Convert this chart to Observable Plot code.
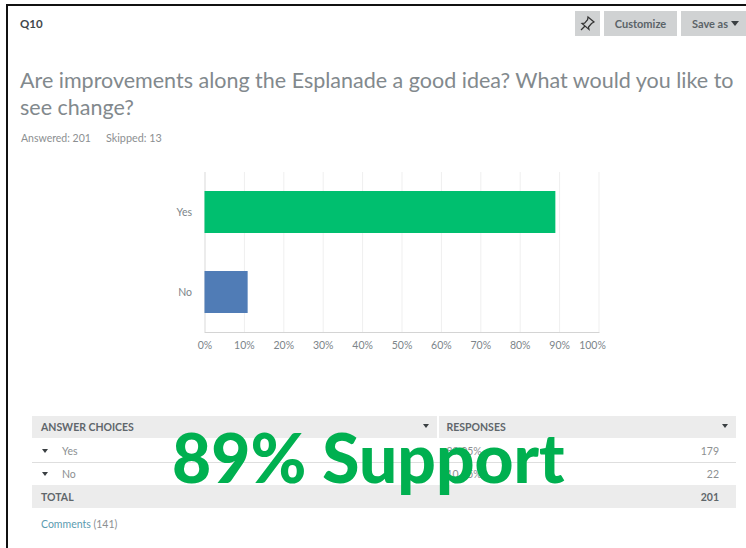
<!DOCTYPE html>
<html><head><meta charset="utf-8">
<script src="https://cdn.jsdelivr.net/npm/d3@7"></script>
<script src="https://cdn.jsdelivr.net/npm/@observablehq/plot@0.6"></script>
<style>
html,body{margin:0;padding:0;background:#fff}
#page{position:relative;width:746px;height:548px;overflow:hidden;font-family:Lato,"Open Sans",sans-serif;color:#6b787f}
#page>div,#chart{position:absolute;white-space:nowrap}
.band{background:#ececec;height:22.5px}
.btn{background:#d0d2d3;color:#5b6368;font-weight:700;font-size:11px;height:25px;line-height:25px;text-align:center;top:11px}
.hd{font-weight:700;font-size:10.5px;color:#5f666b;line-height:14px}
.cell{font-size:10.5px;color:#8c8f91;line-height:14px}
.tri{width:0;height:0;border-left:3.5px solid transparent;border-right:3.5px solid transparent;border-top:4px solid #3a3f42}
</style></head><body>
<div id="page"></div>
<script>
const categories = ["Yes", "No"];
const percentages = [89.05, 10.95];
const counts = [179, 22];
const barColors = ["#00bf6f", "#507cb6"];
const ticks = [0, 10, 20, 30, 40, 50, 60, 70, 80, 90, 100];
const total = 201;
const skipped = 13;
const comments = 141;
const rows = categories.map((c, i) => ({category: c, value: percentages[i], color: barColors[i]}));

const page = document.getElementById("page");
function add(html, css, cls) {
  const d = document.createElement("div");
  d.innerHTML = html; d.style.cssText = css; if (cls) d.className = cls;
  page.appendChild(d); return d;
}
// frame
add("", "left:6px;top:4px;width:740px;height:2px;background:#111");
add("", "left:6px;top:4px;width:2px;height:544px;background:#111");
// header
add("Q10", "left:20px;top:16px;font-size:11.5px;font-weight:700;color:#3f474c;line-height:16px");
add("", "left:575px;top:11px;width:25px;", "btn");
add('<svg width="25" height="25" viewBox="0 0 25 25" fill="none" stroke="#333" stroke-width="1.2"><path d="M13 6l6 5-2.5 1.5-3 3.5.5 2.5-7-6 2.6-.3 3-3.5z"/><path d="M10 15l-4 4"/></svg>', "left:575px;top:11px;width:25px;height:25px");
add("Customize", "left:604px;top:11px;width:73px", "btn");
add("Save as", "left:681px;top:11px;width:65px;text-align:left;padding-left:11px;box-sizing:border-box", "btn");
add("", "left:731px;top:21px;border-left-width:4px;border-right-width:4px;border-top-width:5px", "tri");
// title
add("Are improvements along the Esplanade a good idea? What would you like to<br>see change?",
    "left:20px;top:67px;font-size:21.5px;line-height:27px;color:#82898d;font-weight:400");
add("Answered: " + total, "left:21px;top:131px;font-size:10.5px;color:#8c8f91;line-height:14px");
add("Skipped: " + skipped, "left:106px;top:131px;font-size:10.8px;color:#8c8f91;line-height:14px");

// chart
const tickFmt = d => d + "%";
const axisStyle = {tickFormat: tickFmt, tickSize: 0, tickPadding: 9.5, fontSize: 10.5, color: "#7c858a", label: null};
const chart = Plot.plot({
  width: 480, height: 200,
  marginLeft: 44.5, marginRight: 41.5, marginTop: 12, marginBottom: 28,
  style: {background: "transparent", fontFamily: "Lato, 'Open Sans', sans-serif"},
  x: {domain: [0, 100], label: null},
  y: {domain: categories, label: null, paddingInner: 0.475, paddingOuter: 0.2375},
  marks: [
    Plot.ruleX(ticks.slice(1), {stroke: "#efefef", strokeWidth: 1, strokeOpacity: 1}),
    Plot.ruleX([0], {stroke: "#d9d9d9"}),
    Plot.frame({anchor: "bottom", stroke: "#d4d4d4"}),
    Plot.barX(rows, {x: "value", y: "category", fill: "color"}),
    Plot.axisX({...axisStyle, ticks: ticks.slice(0, -1)}),
    Plot.axisX({...axisStyle, ticks: ticks.slice(-1), dx: -6.5}),
    Plot.axisY({tickSize: 0, tickPadding: 13, fontSize: 10.5, color: "#7c858a", label: null})
  ]
});
chart.id = "chart";
chart.style.left = "160px"; chart.style.top = "160px";
page.appendChild(chart);

// table
add("", "left:32px;top:415.5px;width:704px", "band");
add("", "left:437px;top:415.5px;width:1.5px;height:22.5px;background:#fff");
add("ANSWER CHOICES", "left:41px;top:420px", "hd");
add("", "left:423px;top:424px", "tri");
add("RESPONSES", "left:446.5px;top:420px", "hd");
add("", "left:722px;top:424px", "tri");
add("", "left:32px;top:462px;width:704px;height:1px;background:#dedede");
categories.forEach((c, i) => {
  const top = 443.5 + i * 23.5;
  add("", `left:41.5px;top:${top + 5}px`, "tri");
  add(c, `left:62px;top:${top}px`, "cell");
  add(percentages[i].toFixed(2) + "%", `left:446.5px;top:${top}px`, "cell");
  add(counts[i], `right:27px;top:${top}px`, "cell");
});
add("", "left:32px;top:485px;width:704px", "band");
add("TOTAL", "left:41px;top:489.5px", "hd");
add(total, "right:27px;top:489.5px", "hd");
add('<span style="color:#5b9bb0">Comments</span> (' + comments + ')', "left:41px;top:517px", "cell");
// overlay
add("89% Support", "left:172px;top:417px;font-family:Lato,sans-serif;font-weight:900;font-size:67.6px;line-height:80px;color:#00b050");
</script>
</body></html>
